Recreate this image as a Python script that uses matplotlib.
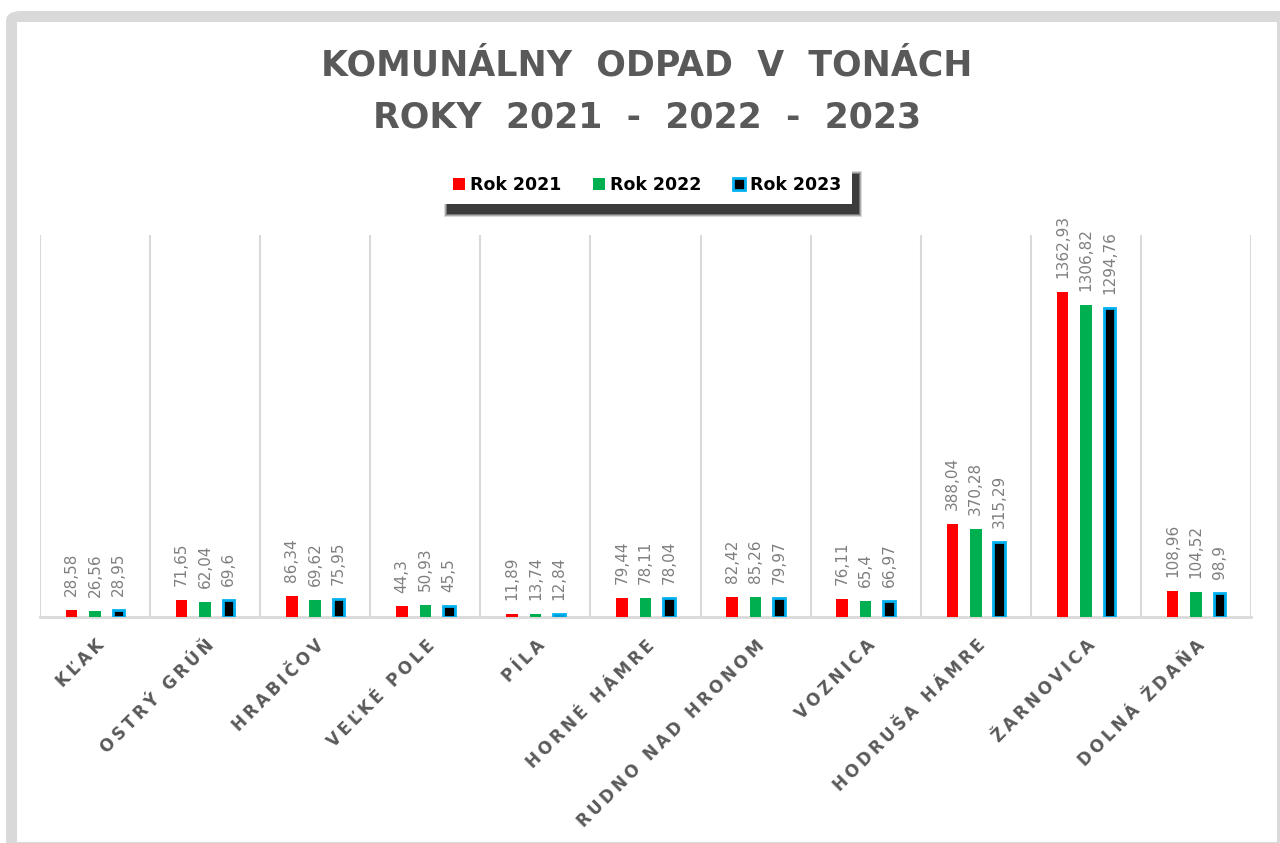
import numpy as np
import matplotlib
matplotlib.use("Agg")
import matplotlib.pyplot as plt
from matplotlib.patches import Rectangle, FancyBboxPatch

obce = ["KĽAK", "OSTRÝ GRÚŇ", "HRABIČOV", "VEĽKÉ POLE", "PÍLA", "HORNÉ HÁMRE",
        "RUDNO NAD HRONOM", "VOZNICA", "HODRUŠA HÁMRE", "ŽARNOVICA", "DOLNÁ ŽDAŇA"]
rok_2021 = [28.58, 71.65, 86.34, 44.3, 11.89, 79.44, 82.42, 76.11, 388.04, 1362.93, 108.96]
rok_2022 = [26.56, 62.04, 69.62, 50.93, 13.74, 78.11, 85.26, 65.4, 370.28, 1306.82, 104.52]
rok_2023 = [28.95, 69.6, 75.95, 45.5, 12.84, 78.04, 79.97, 66.97, 315.29, 1294.76, 98.9]

W, H = 1280, 843
fig = plt.figure(figsize=(W / 100, H / 100), dpi=100)
fig.patch.set_facecolor("white")

# gray frame like the excel chart area
fig.patches.append(FancyBboxPatch((6 / W, -0.1), 1.2, (H - 11) / H + 0.1, boxstyle="round,pad=0,rounding_size=0.012",
                                  transform=fig.transFigure, facecolor="#d9d9d9", edgecolor="none", zorder=-3))
fig.patches.append(Rectangle((17 / W, 1 / H), (1277 - 17) / W, (H - 22 - 1) / H,
                             transform=fig.transFigure, facecolor="white", edgecolor="none", zorder=-2))

ax = fig.add_axes([40 / W, 1 - 617 / H, (1251 - 40) / W, (617 - 235) / H])
x = np.arange(len(obce))
w = 0.105
off = 0.213
b1 = ax.bar(x - off, rok_2021, w, color="#ff0000", label="Rok 2021", zorder=3)
b2 = ax.bar(x, rok_2022, w, color="#00b050", label="Rok 2022", zorder=3)
b3 = ax.bar(x + off, rok_2023, w, color="black", edgecolor="#00b0f0", linewidth=2, label="Rok 2023", zorder=3)

for bars in (b1, b2, b3):
    for r in bars:
        v = r.get_height()
        ax.annotate(f"{v:g}".replace(".", ","), (r.get_x() + r.get_width() / 2, v),
                    xytext=(0, 10), textcoords="offset points", rotation=90,
                    ha="center", va="bottom", fontsize=11, color="#7f7f7f")

ax.set_xlim(-0.5, len(obce) - 0.5)
ax.set_ylim(0, 1600)
ax.set_yticks([])
for s in ["top", "right", "left"]:
    ax.spines[s].set_visible(False)
ax.spines["bottom"].set_color("#d9d9d9")
ax.spines["bottom"].set_linewidth(2)
for b in np.arange(len(obce) + 1) - 0.5:
    ax.axvline(b, color="#d9d9d9", linewidth=1.5, zorder=1)

ax.set_xticks(x)
ax.set_xticklabels(["\u2009".join(n) for n in obce], rotation=45, ha="right", rotation_mode="anchor",
                   fontsize=12, fontweight="bold", color="#595959")
ax.tick_params(axis="x", length=0, pad=14)

fig.text(647 / W, 1 - 65 / H, "KOMUNÁLNY  ODPAD  V  TONÁCH", ha="center", va="center",
         fontsize=25, fontweight="bold", color="#595959")
fig.text(647 / W, 1 - 117 / H, "ROKY  2021  -  2022  -  2023", ha="center", va="center",
         fontsize=25, fontweight="bold", color="#595959")

leg = fig.legend(handles=[b1, b2, b3], loc="center", bbox_to_anchor=(647 / W, 1 - 185 / H), ncol=3,
                 frameon=True, fancybox=False, edgecolor="white", framealpha=1, handlelength=0.7, handleheight=0.7,
                 handletextpad=0.3, columnspacing=1.8, borderpad=0.6, borderaxespad=0,
                 prop={"weight": "bold", "size": 12.5})
leg.get_frame().set_linewidth(0)

# dark blurred shadow under the legend box
fig.canvas.draw()
bb = leg.get_window_extent()
for i, a in enumerate([0.15, 0.2, 0.3, 0.5]):
    g = 4 - i
    fig.patches.append(Rectangle(((bb.x0 + 6 - g) / W, (bb.y0 - 9 - g) / H), (bb.width + 2 * g) / W, (bb.height + 2 * g) / H,
                                 transform=fig.transFigure, facecolor="black", edgecolor="none", alpha=a, zorder=0))
leg.set_zorder(5)

fig.savefig("out.png", dpi=100)
